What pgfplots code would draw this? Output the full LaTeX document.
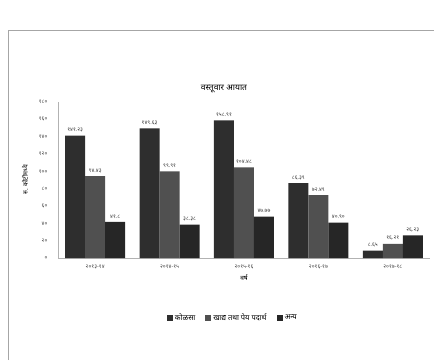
\documentclass[border=0pt]{standalone}
\usepackage{pgfplots}
\pgfplotsset{compat=1.18}
\usepackage{fontspec}
\setmainfont{Noto Sans}[Script=Devanagari]
\definecolor{cA}{HTML}{2E2E2E}
\definecolor{cB}{HTML}{505050}
\definecolor{cC}{HTML}{262626}
\begin{document}
\begin{tikzpicture}
\path[use as bounding box] (0pt,0pt) rectangle (434pt,360pt);
\draw[gray!70, line width=1pt] (8pt,0pt) -- (8pt,330pt) -- (440pt,330pt);
\node[font=\fontsize{8.5}{9}\selectfont\bfseries] at (224pt,271pt) {वस्तूवार आयात};
\begin{axis}[
  at={(58pt,102pt)}, anchor=south west,
  scale only axis, width=372pt, height=156pt,
  ybar=0pt, bar width=20pt,
  xmin=-0.5, xmax=4.5, ymin=0, ymax=180,
  xtick={0,1,2,3,4},
  xticklabels={२०१३-१४,२०१४-१५,२०१५-१६,२०१६-१७,२०१७-१८},
  ytick={0,20,40,60,80,100,120,140,160,180},
  yticklabels={०,२०,४०,६०,८०,१००,१२०,१४०,१६०,१८०},
  tick label style={font=\fontsize{5.5}{6}\selectfont, text=black!70},
  yticklabel style={xshift=-7pt},
  xticklabel style={yshift=-3pt},
  major tick length=0pt,
  axis x line*=bottom, axis y line*=left,
  axis line style={gray!60},
  xlabel={वर्ष}, ylabel={रु. कोटीमध्ये},
  label style={font=\fontsize{6.5}{7}\selectfont\bfseries},
  xlabel style={yshift=1pt},
  ylabel style={yshift=4pt},
  point meta=explicit symbolic,
  nodes near coords,
  every node near coord/.append style={font=\fontsize{5.5}{6}\selectfont, text=black!75},
  legend style={at={(0.47,-0.385)}, anchor=center, draw=none, font=\fontsize{7.5}{8}\selectfont, legend columns=-1,
    /tikz/every even column/.append style={column sep=8pt}},
  legend image code/.code={\fill[#1] (0pt,-3pt) rectangle (6pt,3pt);},
]
\addplot[fill=cA, draw=none] coordinates {(0,141.23) [१४१.२३] (1,149.63) [१४९.६३] (2,158.91) [१५८.९१] (3,86.39) [८६.३९] (4,8.65) [८.६५]};
\addplot[fill=cB, draw=none] coordinates {(0,94.43) [९४.४३] (1,99.91) [९९.९१] (2,104.48) [१०४.४८] (3,72.49) [७२.४९] (4,16.21) [१६.२१]};
\addplot[fill=cC, draw=none] coordinates {(0,41.8) [४१.८] (1,38.38) [३८.३८] (2,47.77) [४७.७७] (3,40.90) [४०.९०] (4,26.23) [२६.२३]};
\legend{कोळसा, खाद्य तथा पेय पदार्थ, अन्य}
\end{axis}
\end{tikzpicture}
\end{document}
